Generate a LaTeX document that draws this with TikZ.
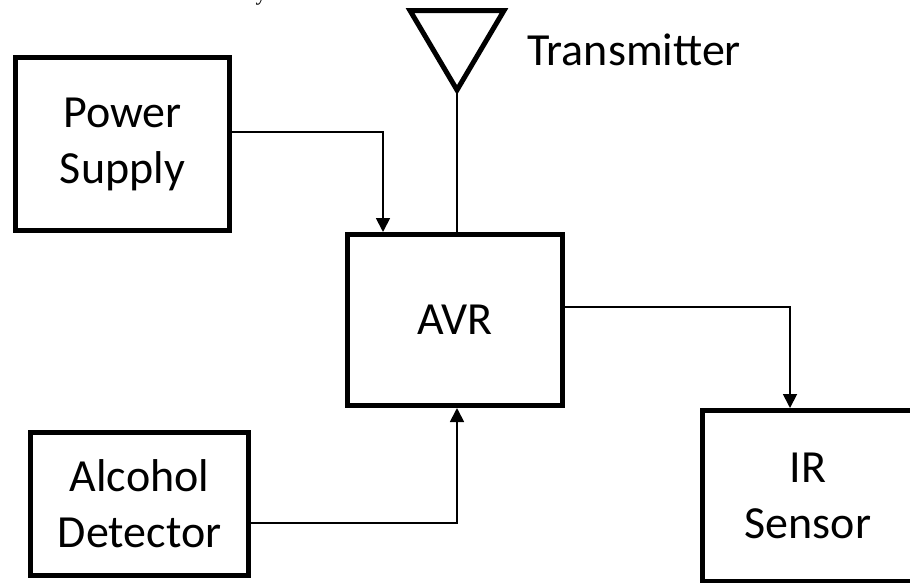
\documentclass[tikz,border=0pt]{standalone}
\usepackage{fontspec}
\setmainfont{Carlito}
\newfontfamily\fragfont{Liberation Serif}
\usetikzlibrary{arrows.meta}
\begin{document}
\begin{tikzpicture}[x=1pt,y=-1pt,
  bigtext/.style={font=\fontsize{46}{56}\selectfont},
  box/.style={draw, line width=5pt, inner sep=0pt, align=center, bigtext},
  conn/.style={line width=1.8pt},
  arr/.style={conn, -{Triangle[length=14pt,width=14pt]}}]
\useasboundingbox (0,0) rectangle (910,582);
\clip (0,0) rectangle (910,582);
\fill[white] (0,0) rectangle (910,582);
% boxes
\node[box, minimum width=214pt, minimum height=173pt] (ps) at (122.5,144) {Power\\Supply};
\node[box, minimum width=215pt, minimum height=171pt] (avr) at (455,320) {AVR};
\node[box, minimum width=211pt, minimum height=171pt] (ir) at (808,496) {IR\\Sensor};
\node[box, minimum width=218pt, minimum height=143pt] (alc) at (139.5,504) {Alcohol\\Detector};
% antenna
\draw[line width=5pt, line join=miter] (410,10.5) -- (504,10.5) -- (457,90) -- cycle;
\coordinate (ant) at (457,90);
\node[anchor=base west, inner sep=0pt, bigtext] (tx) at (527,65) {Transmitter};
\node[anchor=base, inner sep=0pt, font=\fragfont\fontsize{22}{26}\selectfont] (frag) at (261,0) {y};
% connectors
\draw[conn] (ant) -- (ant |- avr.north);
\draw[arr] ([yshift=12pt]ps.east) -| ([xshift=-72pt]avr.north);
\draw[arr] ([yshift=13pt]avr.east) -| ([xshift=-18pt]ir.north);
\draw[arr] ([yshift=-19pt]alc.east) -| ([xshift=2pt]avr.south);
\end{tikzpicture}
\end{document}
